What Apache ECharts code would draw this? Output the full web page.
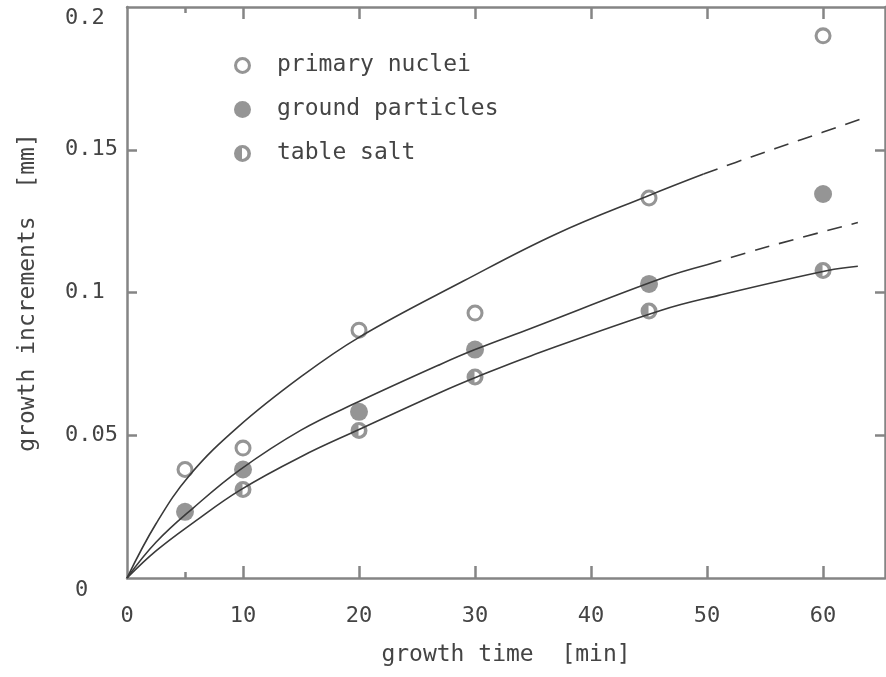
<!DOCTYPE html>
<html>
<head>
<meta charset="utf-8">
<title>growth increments</title>
<style>
  html, body { margin: 0; padding: 0; background: #fff; }
  #chart { width: 886px; height: 677px; }
</style>
<script src="https://cdn.jsdelivr.net/npm/echarts@6.0.0/dist/echarts.min.js"></script>
</head>
<body>
<div id="chart"></div>
<script>
// measured points
const times = [5, 10, 20, 30, 45, 60]
const primaryNuclei = [0.038, 0.0455, 0.0868, 0.0928, 0.1331, 0.1899]
const groundParticles = [0.0232, 0.038, 0.0582, 0.08, 0.103, 0.1345]
const saltTimes = [10, 20, 30, 45, 60]
const tableSalt = [0.031, 0.0517, 0.0704, 0.0935, 0.1077]

// fitted curves (solid part + dashed extension)
const primaryFitT = [0, 2.5, 5.4, 9.6, 15, 20, 29, 37, 45, 49.7]
const primaryFitY = [0, 0.019, 0.036, 0.053, 0.0705, 0.0843, 0.104, 0.1205, 0.134, 0.1415]
const primaryDashT = [49.7, 53.8, 58.1, 63.8]
const primaryDashY = [0.1415, 0.1475, 0.1535, 0.1615]

const groundFitT = [0, 2.5, 5.7, 9.7, 15, 20, 27, 30, 34.8, 46, 50]
const groundFitY = [0, 0.0125, 0.0245, 0.0378, 0.0518, 0.0618, 0.0748, 0.08, 0.0874, 0.1048, 0.1097]
const groundDashT = [50, 55.2, 63]
const groundDashY = [0.1097, 0.116, 0.1245]

const saltFitT = [0, 2.5, 5.75, 9.75, 15, 20, 27, 30.2, 34.8, 46, 51, 60.4, 63]
const saltFitY = [0, 0.0095, 0.0195, 0.0308, 0.0425, 0.052, 0.065, 0.0705, 0.0778, 0.0937, 0.099, 0.1077, 0.1092]

// axis ticks / labels
const xLabelValues = [0, 10, 20, 30, 40, 50, 60]
const xTickValues = [10, 20, 30, 40, 50, 60]
const xMinorTickValues = [5]
const yLabelValues = [0, 0.05, 0.1, 0.15, 0.2]
const yTickValues = [0.05, 0.1, 0.15]

const FONT = 'DejaVu Sans Mono'
const TEXT = '#444'
const AXIS = '#858585'
const MARK = '#7b7b7b'
const CURVE = '#3a3a3a'

// ring and half-filled markers (holes via winding)
const RING = 'path://M50,0A50,50,0,1,1,50,100A50,50,0,1,1,50,0ZM50,18A32,32,0,1,0,50,82A32,32,0,1,0,50,18Z'
const HALF = 'path://M50,0A50,50,0,1,1,50,100A50,50,0,1,1,50,0ZM47,18L47,82A32,32,0,1,0,47,18Z'

function pairs(xs, ys) {
  return xs.map((x, i) => [x, ys[i]])
}

function curve(xs, ys, dashed) {
  return {
    type: 'line',
    data: pairs(xs, ys),
    showSymbol: false,
    smooth: 0.4,
    silent: true,
    lineStyle: {
      color: CURVE,
      width: 1.6,
      type: dashed ? [15, 10] : 'solid'
    }
  }
}

function xAxis(position, ticks, len, showLine) {
  return {
    type: 'value',
    position: position,
    min: 0,
    max: 65.34,
    axisLine: { show: showLine, onZero: false, lineStyle: { color: AXIS, width: 2.5 } },
    axisTick: { inside: true, length: len, customValues: ticks, lineStyle: { color: AXIS, width: 2.5 } },
    axisLabel: { show: false },
    splitLine: { show: false }
  }
}

const chart = echarts.init(document.getElementById('chart'))

const bottomAxis = xAxis('bottom', xTickValues, 12, true)
bottomAxis.axisLabel = {
  show: true,
  customValues: xLabelValues,
  margin: 27,
  fontFamily: FONT,
  fontSize: 22,
  color: TEXT
}
bottomAxis.name = 'growth time  [min]'
bottomAxis.nameLocation = 'middle'
bottomAxis.nameGap = 66
bottomAxis.nameTextStyle = { fontFamily: FONT, fontSize: 23, color: TEXT }

const tokenStyle = { fontFamily: FONT, fontSize: 22, color: TEXT }

chart.setOption({
  animation: false,
  backgroundColor: '#fff',
  grid: {
    left: 127,
    right: 1,
    top: 7,
    bottom: 99,
    outerBoundsMode: 'none'
  },
  legend: {
    orient: 'vertical',
    left: 234,
    top: 54,
    padding: 0,
    itemWidth: 17,
    itemHeight: 17,
    itemGap: 21,
    data: ['primary nuclei', 'ground particles', 'table salt'],
    textStyle: { fontFamily: FONT, fontSize: 23, color: TEXT, padding: [4, 0, 0, 21] }
  },
  xAxis: [
    bottomAxis,
    xAxis('top', xTickValues, 12, true),
    xAxis('bottom', xMinorTickValues, 6, false),
    xAxis('top', xMinorTickValues, 6, false)
  ],
  yAxis: [{
    type: 'value',
    position: 'left',
    min: 0,
    max: 0.2,
    axisLine: { show: true, onZero: false, lineStyle: { color: AXIS, width: 2.5 } },
    axisTick: { inside: true, length: 10, customValues: yTickValues, lineStyle: { color: AXIS, width: 2.5 } },
    axisLabel: {
      customValues: yLabelValues,
      align: 'left',
      margin: 62,
      formatter: function(value) {
        if (value === 0) return '{z|0}'
        if (value === 0.2) return '{t|0.2}'
        return '{n|' + value + '}'
      },
      rich: {
        z: Object.assign({ padding: [24, 0, 0, 10] }, tokenStyle),
        t: Object.assign({ padding: [22, 0, 0, 0] }, tokenStyle),
        n: Object.assign({}, tokenStyle)
      }
    },
    splitLine: { show: false },
    name: 'growth increments  [mm]',
    nameLocation: 'middle',
    nameGap: 87,
    nameTextStyle: { fontFamily: FONT, fontSize: 23, color: TEXT }
  }, {
    type: 'value',
    position: 'right',
    min: 0,
    max: 0.2,
    axisLine: { show: true, onZero: false, lineStyle: { color: AXIS, width: 2.5 } },
    axisTick: { inside: true, length: 10, customValues: yTickValues, lineStyle: { color: AXIS, width: 2.5 } },
    axisLabel: { show: false },
    splitLine: { show: false }
  }],
  series: [
    curve(primaryFitT, primaryFitY, false),
    curve(primaryDashT, primaryDashY, true),
    curve(groundFitT, groundFitY, false),
    curve(groundDashT, groundDashY, true),
    curve(saltFitT, saltFitY, false),
    // white under the open markers so curves do not show through
    {
      type: 'scatter',
      silent: true,
      symbol: 'circle',
      symbolSize: 15,
      itemStyle: { color: '#fff' },
      data: pairs(times, primaryNuclei).concat(pairs(saltTimes, tableSalt))
    },
    {
      name: 'primary nuclei',
      type: 'scatter',
      symbol: RING,
      symbolSize: 17,
      itemStyle: { color: MARK },
      data: pairs(times, primaryNuclei)
    },
    {
      name: 'ground particles',
      type: 'scatter',
      symbol: 'circle',
      symbolSize: 18,
      itemStyle: { color: MARK },
      data: pairs(times, groundParticles)
    },
    {
      name: 'table salt',
      type: 'scatter',
      symbol: HALF,
      symbolSize: 17,
      itemStyle: { color: MARK },
      data: pairs(saltTimes, tableSalt)
    }
  ]
})
</script>
</body>
</html>
